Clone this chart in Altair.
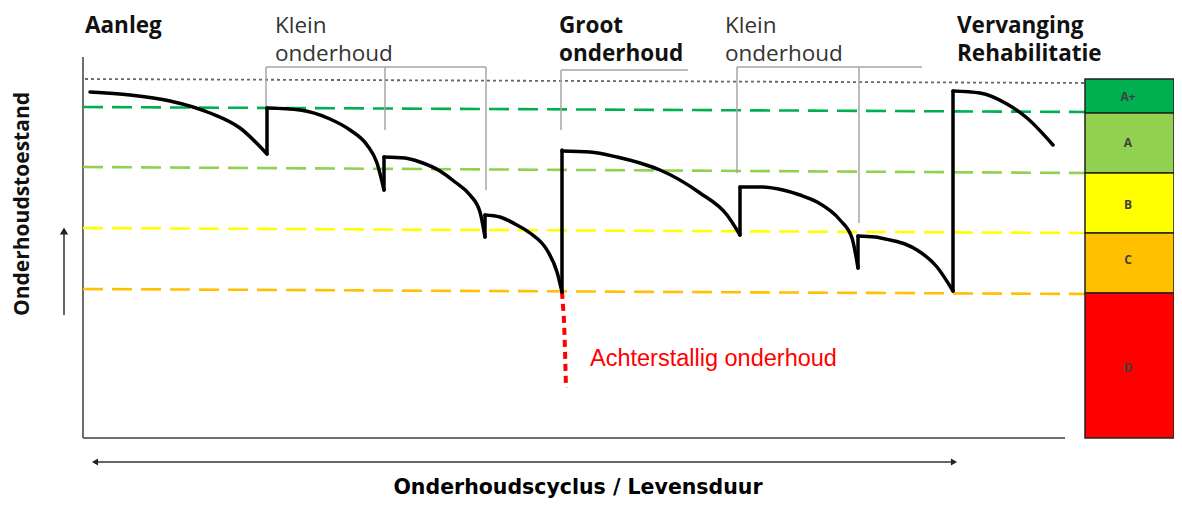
import altair as alt
import pandas as pd

# ---------------- data (time t, condition c) ----------------
curve_seg = [1]*6 + [2]*7 + [3]*8 + [4]*7 + [5]*8 + [6]*8 + [7]*7 + [8]*5
curve_t = [7, 47, 87, 127, 157, 184,
           184, 217, 247, 267, 284, 294, 301,
           301, 322, 337, 357, 372, 387, 397, 402,
           402, 417, 432, 447, 464, 474, 479,
           479, 507, 534, 557, 577, 617, 644, 657,
           657, 677, 700, 717, 734, 757, 769, 775,
           775, 792, 807, 822, 834, 854, 870,
           870, 897, 924, 944, 970]
curve_c = [346, 343, 337, 325, 310, 284,
           330, 328, 319, 308, 293, 275, 248,
           281, 280, 276, 267, 256, 243, 226, 201,
           223, 221, 214, 205, 188, 166, 146,
           287, 286, 281, 275, 268, 245, 223, 203,
           251, 251, 248, 243, 236, 218, 200, 170,
           202, 201, 198, 194, 188, 171, 147,
           347, 345, 334, 320, 293]

jump_t = [184, 301, 402, 479, 657, 775, 870]
jump_low = [284, 248, 201, 146, 203, 170, 147]
jump_high = [330, 281, 223, 288, 251, 202, 347]

backlog_t = [479, 481, 482, 483]
backlog_c = [146, 118, 88, 50]

thr_name = ["max", "A+", "A", "B", "C"]
thr_t0 = [2, 0, 0, 0, 0]
thr_t1 = [1002, 1002, 1002, 1002, 1002]
thr_c0 = [359, 331, 271, 210, 149]
thr_c1 = [355, 326, 265, 205, 144]
thr_color = ["#666666", "#00B050", "#92D050", "#FFFF00", "#FFC000"]

band_label = ["A+", "A", "B", "C", "D"]
band_top = [359, 325, 265, 205, 145]
band_bottom = [325, 265, 205, 145, 0]
band_mid = [341, 295, 233, 178, 70]
band_color = ["#00B050", "#92D050", "#FFFF00", "#FFC000", "#FF0000"]
band_t0, band_t1, band_tlabel = 1002, 1091, 1045

# brackets
brk_h_t0 = [183, 478, 654]
brk_h_t1 = [403, 605, 839]
brk_h_c = [371, 368, 371]
brk_v_t = [183, 302, 403, 478, 654, 776]
brk_v_top = [371, 371, 371, 368, 371, 371]
brk_v_bottom = [330, 308, 248, 308, 265, 215]

# labels
bold_text = ["Aanleg", "Groot\nonderhoud", "Vervanging\nRehabilitatie"]
bold_t = [2, 476, 874]
bold_c = [405, 405, 405]
klein_text = ["Klein\nonderhoud", "Klein\nonderhoud"]
klein_t = [192, 642]
klein_c = [405, 405]

# ---------------- scales ----------------
xs = alt.Scale(domain=[-75, 1091], nice=False, zero=False)
ys = alt.Scale(domain=[-63, 430], nice=False, zero=False)

def X(f="t"):
    return alt.X(f"{f}:Q", scale=xs, axis=None)

def Y(f="c"):
    return alt.Y(f"{f}:Q", scale=ys, axis=None)

layers = []

# axis frame
frame_v = alt.Chart(pd.DataFrame({"t": [0], "c": [0], "c2": [381]})).mark_rule(
    color="#6e6e6e", strokeWidth=2).encode(x=X(), y=Y(), y2="c2:Q")
frame_h = alt.Chart(pd.DataFrame({"t": [0], "t2": [982], "c": [0]})).mark_rule(
    color="#6e6e6e", strokeWidth=2).encode(x=X(), x2="t2:Q", y=Y())
layers += [frame_v, frame_h]

# threshold lines
thr_rows = []
for n, a, b, c0, c1, col in zip(thr_name, thr_t0, thr_t1, thr_c0, thr_c1, thr_color):
    thr_rows.append({"name": n, "t": a, "c": c0, "col": col})
    thr_rows.append({"name": n, "t": b, "c": c1, "col": col})
thr_df = pd.DataFrame(thr_rows)
dotted = alt.Chart(thr_df[thr_df.name == "max"]).mark_line(
    color=thr_color[0], strokeWidth=1.8, strokeDash=[3, 3]).encode(x=X(), y=Y())
layers.append(dotted)
for n, col in zip(thr_name[1:], thr_color[1:]):
    layers.append(alt.Chart(thr_df[thr_df.name == n]).mark_line(
        color=col, strokeWidth=2.6, strokeDash=[20, 9]).encode(x=X(), y=Y()))

# brackets
bh = alt.Chart(pd.DataFrame({"t": brk_h_t0, "t2": brk_h_t1, "c": brk_h_c})).mark_rule(
    color="#a6a6a6", strokeWidth=1.5).encode(x=X(), x2="t2:Q", y=Y())
bv = alt.Chart(pd.DataFrame({"t": brk_v_t, "c": brk_v_top, "c2": brk_v_bottom})).mark_rule(
    color="#a6a6a6", strokeWidth=1.5).encode(x=X(), y=Y(), y2="c2:Q")
layers += [bh, bv]

# backlog dashed red
backlog = alt.Chart(pd.DataFrame({"t": backlog_t, "c": backlog_c})).mark_line(
    color="#FF0000", strokeWidth=4, strokeDash=[7, 5]).encode(x=X(), y=Y())
layers.append(backlog)

# degradation curve
curve_df = pd.DataFrame({"seg": curve_seg, "t": curve_t, "c": curve_c})
curve = alt.Chart(curve_df).mark_line(
    color="black", strokeWidth=3.5, interpolate="monotone", strokeCap="round").encode(
    x=X(), y=Y(), detail="seg:N")
jumps = alt.Chart(pd.DataFrame({"t": jump_t, "c": jump_low, "c2": jump_high})).mark_rule(
    color="black", strokeWidth=3.5, strokeCap="round").encode(x=X(), y=Y(), y2="c2:Q")
layers += [curve, jumps]

# level bands
band_df = pd.DataFrame({"label": band_label, "c": band_bottom, "c2": band_top,
                        "mid": band_mid, "col": band_color,
                        "t": [band_t0]*5, "t2": [band_t1]*5, "tl": [band_tlabel]*5})
bands = alt.Chart(band_df).mark_rect(stroke="#222222", strokeWidth=1.5).encode(
    x=X(), x2="t2:Q", y=Y(), y2="c2:Q",
    color=alt.Color("col:N", scale=None))
band_txt = alt.Chart(band_df).mark_text(
    font="Open Sans", fontWeight="bold", fontSize=12, color="#404040",
    align="center", baseline="middle").encode(x=X("tl"), y=Y("mid"), text="label:N")
layers += [bands, band_txt]

# arrows
arrow_v = alt.Chart(pd.DataFrame({"t": [-19], "c": [123], "c2": [206]})).mark_rule(
    color="#333333", strokeWidth=1.5).encode(x=X(), y=Y(), y2="c2:Q")
arrow_v_head = alt.Chart(pd.DataFrame({"t": [-19], "c": [207]})).mark_point(
    shape="triangle-up", filled=True, size=70, color="#222222", opacity=1).encode(x=X(), y=Y())
arrow_h = alt.Chart(pd.DataFrame({"t": [12], "t2": [871], "c": [-24]})).mark_rule(
    color="#333333", strokeWidth=1.5).encode(x=X(), x2="t2:Q", y=Y())
arrow_h_heads = alt.Chart(pd.DataFrame({"t": [12, 871], "c": [-24, -24],
                                        "s": ["triangle-left", "triangle-right"]})).mark_point(
    filled=True, size=50, color="#222222", opacity=1).encode(
    x=X(), y=Y(), shape=alt.Shape("s:N", scale=None))
layers += [arrow_v, arrow_v_head, arrow_h, arrow_h_heads]

# texts
bold = alt.Chart(pd.DataFrame({"t": bold_t, "c": bold_c, "txt": bold_text})).mark_text(
    font="Open Sans", fontWeight="bold", fontSize=22.5, color="#111111",
    align="left", baseline="alphabetic", lineBreak="\n", lineHeight=28).encode(
    x=X(), y=Y(), text="txt:N")
klein = alt.Chart(pd.DataFrame({"t": klein_t, "c": klein_c, "txt": klein_text})).mark_text(
    font="Open Sans", fontSize=22.5, color="#333333",
    align="left", baseline="alphabetic", lineBreak="\n", lineHeight=28).encode(
    x=X(), y=Y(), text="txt:N")
backlog_lbl = alt.Chart(pd.DataFrame({"t": [507], "c": [79], "txt": ["Achterstallig onderhoud"]})).mark_text(
    font="Liberation Sans", fontSize=23.5, color="#FF0000",
    align="left", baseline="middle").encode(x=X(), y=Y(), text="txt:N")
xtitle = alt.Chart(pd.DataFrame({"t": [495], "c": [-50], "txt": ["Onderhoudscyclus / Levensduur"]})).mark_text(
    font="DejaVu Sans", fontWeight="bold", fontSize=20.5, color="#000000",
    align="center", baseline="middle").encode(x=X(), y=Y(), text="txt:N")
ytitle = alt.Chart(pd.DataFrame({"t": [-60], "c": [234], "txt": ["Onderhoudstoestand"]})).mark_text(
    font="Open Sans", fontWeight="bold", fontSize=21, color="#111111", angle=270,
    align="center", baseline="middle").encode(x=X(), y=Y(), text="txt:N")
layers += [bold, klein, backlog_lbl, xtitle, ytitle]

chart = alt.layer(*layers).properties(
    width=1166, height=493, padding=0,
    autosize=alt.AutoSizeParams(type="none")
).configure_view(stroke=None)

chart.save("out.html", embed_options={"renderer": "svg", "actions": False})
